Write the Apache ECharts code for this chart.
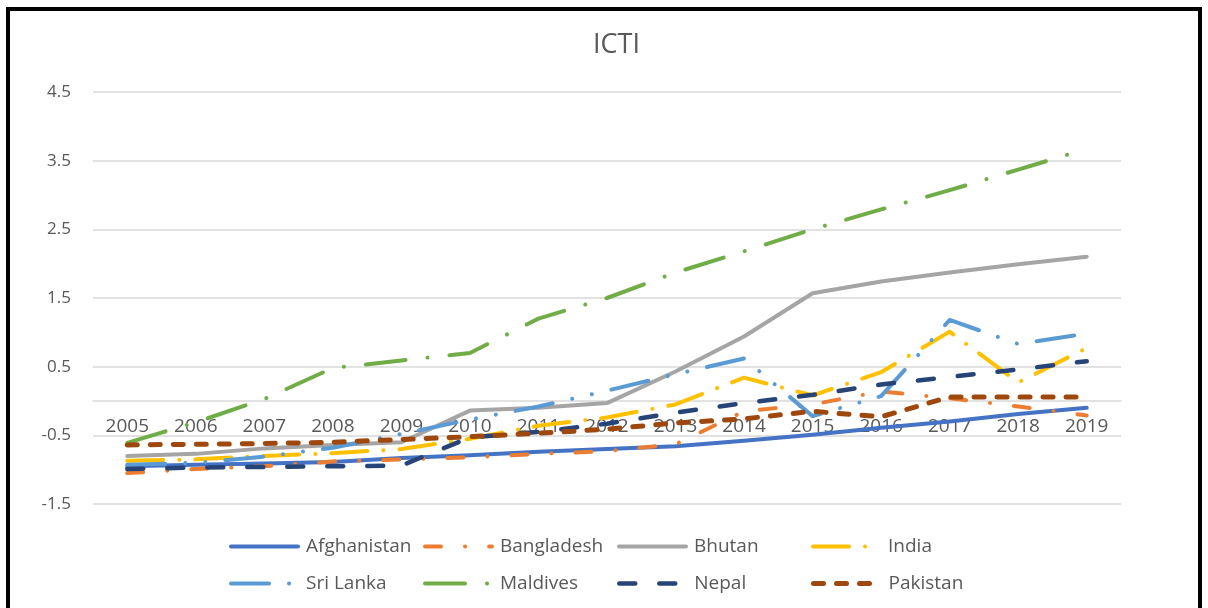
<!DOCTYPE html>
<html>
<head>
<meta charset="utf-8">
<script src="https://cdn.jsdelivr.net/npm/echarts@6/dist/echarts.min.js"></script>
<style>
html,body{margin:0;padding:0;background:#fff;}
#chart{width:1208px;height:608px;}
</style>
</head>
<body>
<div id="chart"></div>
<script>
const years = ['2005','2006','2007','2008','2009','2010','2011','2012','2013','2014','2015','2016','2017','2018','2019'];
const afghanistan = [-0.95, -0.93, -0.91, -0.89, -0.83, -0.79, -0.74, -0.70, -0.66, -0.58, -0.49, -0.39, -0.30, -0.19, -0.10];
const bangladesh  = [-1.05, -0.99, -0.95, -0.88, -0.85, -0.82, -0.77, -0.73, -0.63, -0.15, -0.05, 0.14, 0.04, -0.08, -0.21];
const bhutan      = [-0.80, -0.77, -0.69, -0.64, -0.60, -0.14, -0.10, -0.03, 0.43, 0.94, 1.57, 1.74, 1.87, 1.99, 2.10];
const india       = [-0.87, -0.85, -0.80, -0.76, -0.70, -0.55, -0.36, -0.24, -0.05, 0.34, 0.08, 0.42, 1.01, 0.27, 0.77];
const sriLanka    = [-0.93, -0.90, -0.81, -0.68, -0.48, -0.27, -0.08, 0.15, 0.39, 0.62, -0.22, 0.07, 1.18, 0.83, 0.98];
const maldives    = [-0.61, -0.31, 0.03, 0.48, 0.59, 0.70, 1.20, 1.50, 1.87, 2.18, 2.50, 2.79, 3.07, 3.37, 3.67];
const nepal       = [-0.99, -0.97, -0.96, -0.95, -0.94, -0.53, -0.45, -0.33, -0.17, -0.03, 0.09, 0.24, 0.35, 0.46, 0.58];
const pakistan    = [-0.64, -0.63, -0.62, -0.60, -0.56, -0.52, -0.47, -0.41, -0.32, -0.26, -0.15, -0.23, 0.06, 0.06, 0.06];

const seriesNames = ['Afghanistan','Bangladesh','Bhutan','India','Sri Lanka','Maldives','Nepal','Pakistan'];
const seriesData = [afghanistan, bangladesh, bhutan, india, sriLanka, maldives, nepal, pakistan];
const yMin = -1.5, yMax = 4.5, yStep = 1;

const colors = ['#4472C4','#ED7D31','#A5A5A5','#FFC000','#5B9BD5','#70AD47','#264478','#9E480E'];
const dashes = ['solid', [16,24,0.1,24], 'solid', [36,16,0.1,16], [38,20,0.1,20,0.1,20], [40,22,0.1,22], [16,24], [10,13]];
const widths = [4,4,4,4,4,4,4.5,5];

const FONT = '"Open Sans", sans-serif';
const W = 1208, H = 608;
const gridTop = 92, gridBottom = 104, gridLeft = 93, gridRight = 87;
const gridH = H - gridTop - gridBottom;
// x-axis crosses the value axis at zero
const zeroOffset = -((0 - yMin) / (yMax - yMin)) * gridH;

const chart = echarts.init(document.getElementById('chart'), null, {renderer:'canvas'});

const series = seriesNames.map((n,i)=>({
  name: n,
  type: 'line',
  data: seriesData[i],
  symbol: 'none',
  silent: true,
  animation: false,
  lineStyle: {color: colors[i], width: widths[i], type: dashes[i], cap: 'round', join: 'round'},
  itemStyle: {color: colors[i]}
}));

const colX = [229, 423, 617, 811];
const rowY = [537, 574];
const legends = seriesNames.map((n,i)=>({
  left: colX[i % 4],
  top: rowY[Math.floor(i / 4)],
  padding: 0,
  itemWidth: 67,
  itemHeight: 14,
  selectedMode: false,
  data: [n],
  lineStyle: {width: widths[i]},
  itemStyle: {opacity: 0},
  textStyle: {color:'#595959', fontSize: 19, fontFamily: FONT, padding:[0,0,0,3]}
}));

chart.setOption({
  animation: false,
  backgroundColor: '#fff',
  title: {
    text: 'ICTI',
    left: 588,
    top: 27,
    textStyle: {color:'#595959', fontSize: 27, fontWeight: 'normal', fontFamily: FONT}
  },
  grid: {left: gridLeft, right: gridRight, top: gridTop, bottom: gridBottom, containLabel: false},
  legend: legends,
  xAxis: {
    type: 'category',
    data: years,
    boundaryGap: true,
    position: 'bottom',
    offset: zeroOffset,
    axisLine: {show: true, onZero: false, lineStyle: {color:'#D9D9D9', width: 1.5}},
    axisTick: {show: false},
    axisLabel: {color:'#595959', fontSize: 19, fontFamily: FONT, margin: 16}
  },
  yAxis: {
    type: 'value',
    min: yMin,
    max: yMax,
    interval: yStep,
    axisLine: {show: false},
    axisTick: {show: false},
    axisLabel: {color:'#595959', fontSize: 17, fontFamily: FONT, margin: 22, formatter: v => v.toFixed(1)},
    splitLine: {lineStyle: {color:'#D9D9D9', width: 1.5}}
  },
  graphic: [{
    type: 'rect',
    silent: true,
    shape: {x: 8, y: 9, width: 1192, height: 660},
    style: {fill: 'none', stroke: '#000', lineWidth: 4}
  }],
  series: series
});
</script>
</body>
</html>
